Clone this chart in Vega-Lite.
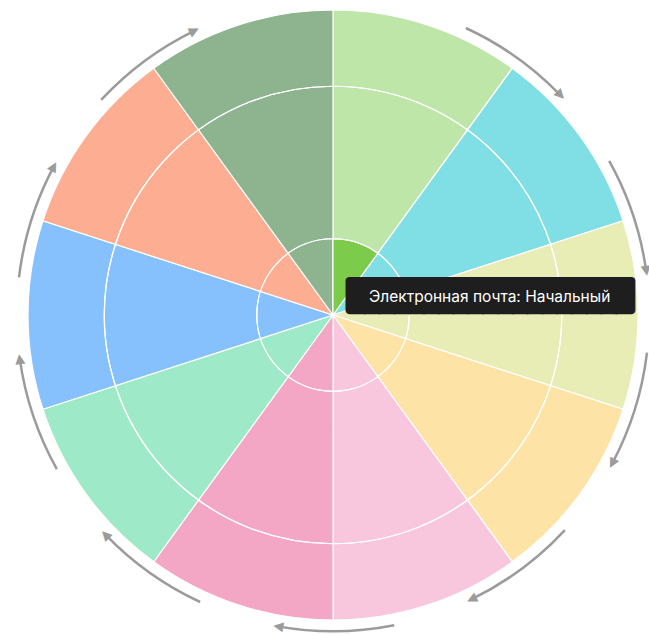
{
  "$schema": "https://vega.github.io/schema/vega-lite/v6.json",
  "width": 632,
  "height": 630,
  "autosize": "none",
  "padding": {"left": 17, "top": 0, "right": 0, "bottom": 5},
  "background": "white",
  "config": {"view": {"stroke": null}},
  "datasets": {
    "channels": [
      {"n": 1, "channel": "Электронная почта", "share": 1, "level": 1, "label": "Электронная почта: Начальный"},
      {"n": 2, "channel": "Социальные сети", "share": 1, "level": 0, "label": "Социальные сети"},
      {"n": 3, "channel": "Поисковая оптимизация", "share": 1, "level": 0, "label": "Поисковая оптимизация"},
      {"n": 4, "channel": "Контекстная реклама", "share": 1, "level": 0, "label": "Контекстная реклама"},
      {"n": 5, "channel": "Контент-маркетинг", "share": 1, "level": 0, "label": "Контент-маркетинг"},
      {"n": 6, "channel": "Мобильный маркетинг", "share": 1, "level": 0, "label": "Мобильный маркетинг"},
      {"n": 7, "channel": "Веб-аналитика", "share": 1, "level": 0, "label": "Веб-аналитика"},
      {"n": 8, "channel": "Видеомаркетинг", "share": 1, "level": 0, "label": "Видеомаркетинг"},
      {"n": 9, "channel": "Партнёрский маркетинг", "share": 1, "level": 0, "label": "Партнёрский маркетинг"},
      {"n": 10, "channel": "CRM", "share": 1, "level": 0, "label": "CRM"}
    ],
    "rings": [{"ring": 1}, {"ring": 2}, {"ring": 3}],
    "arrows": [
      {"k": 1, "t0": 0.69, "t1": 1.28},
      {"k": 2, "t0": 1.69, "t1": 2.28},
      {"k": 3, "t0": 2.69, "t1": 3.28},
      {"k": 4, "t0": 3.69, "t1": 4.28},
      {"k": 5, "t0": 4.69, "t1": 5.28},
      {"k": 6, "t0": 5.69, "t1": 6.28},
      {"k": 7, "t0": 6.69, "t1": 7.28},
      {"k": 8, "t0": 7.69, "t1": 8.28},
      {"k": 9, "t0": 8.69, "t1": 9.28}
    ]
  },
  "layer": [
    {
      "data": {"name": "channels"},
      "mark": {"type": "arc", "outerRadius": 305, "stroke": "white", "strokeWidth": 1.2},
      "encoding": {
        "theta": {"field": "share", "type": "quantitative", "stack": true, "scale": {"domain": [0, 10]}},
        "order": {"field": "n", "type": "quantitative"},
        "color": {
          "field": "channel", "type": "nominal", "legend": null,
          "scale": {
            "domain": ["Электронная почта", "Социальные сети", "Поисковая оптимизация", "Контекстная реклама", "Контент-маркетинг", "Мобильный маркетинг", "Веб-аналитика", "Видеомаркетинг", "Партнёрский маркетинг", "CRM"],
            "range": ["#bde6a8", "#80dfe4", "#e8ecb5", "#fde3a6", "#f8c6dd", "#f4a7c5", "#9de9c8", "#86c1fd", "#fdad91", "#8db38f"]
          }
        }
      }
    },
    {
      "data": {"name": "channels"},
      "mark": {"type": "arc", "stroke": "white", "strokeWidth": 1.2},
      "encoding": {
        "theta": {"field": "share", "type": "quantitative", "stack": true, "scale": {"domain": [0, 10]}},
        "order": {"field": "n", "type": "quantitative"},
        "radius": {"field": "level", "type": "quantitative", "scale": {"type": "linear", "domain": [0, 4], "range": [0, 305], "zero": true}},
        "color": {
          "field": "channel", "type": "nominal", "legend": null,
          "scale": {
            "domain": ["Электронная почта", "Социальные сети", "Поисковая оптимизация", "Контекстная реклама", "Контент-маркетинг", "Мобильный маркетинг", "Веб-аналитика", "Видеомаркетинг", "Партнёрский маркетинг", "CRM"],
            "range": ["#7ccb4b", "#33c2cc", "#cdd36a", "#f9c54d", "#ef8dbb", "#e9558f", "#46d39a", "#3d95f0", "#f96f47", "#4f8a52"]
          }
        }
      }
    },
    {
      "data": {"name": "rings"},
      "mark": {"type": "arc", "theta": 0, "theta2": 6.2832, "fillOpacity": 0, "stroke": "white", "strokeWidth": 1.2},
      "encoding": {
        "radius": {"field": "ring", "type": "quantitative", "scale": {"type": "linear", "domain": [0, 4], "range": [0, 305], "zero": true}}
      }
    },
    {
      "data": {"name": "arrows"},
      "mark": {"type": "arc", "innerRadius": 315, "outerRadius": 317.5, "fill": "#9b9b9b"},
      "encoding": {
        "theta": {"field": "t0", "type": "quantitative", "stack": null, "scale": {"domain": [0, 10]}},
        "theta2": {"field": "t1"}
      }
    },
    {
      "data": {"name": "arrows"},
      "mark": {"type": "text", "radius": 316.3, "font": "DejaVu Sans", "fontSize": 13, "fill": "#9b9b9b", "align": "center", "baseline": "middle"},
      "encoding": {
        "theta": {"field": "t1", "type": "quantitative", "stack": null, "scale": {"domain": [0, 10]}},
        "angle": {"field": "t1", "type": "quantitative", "scale": {"domain": [0, 10], "range": [90, 450]}},
        "text": {"value": "▲"}
      }
    },
    {
      "data": {"name": "channels"},
      "transform": [{"filter": "datum.level > 0"}],
      "mark": {"type": "text", "radius": 0, "font": "DejaVu Sans Mono", "fontSize": 24.6, "fill": "#1e1e1e", "stroke": "#1e1e1e", "strokeWidth": 8, "strokeJoin": "round", "align": "center", "baseline": "middle", "dx": 157.5, "dy": -18},
      "encoding": {
        "theta": {"field": "share", "type": "quantitative", "stack": true, "scale": {"domain": [0, 10]}},
        "text": {"value": "███████████████████"}
      }
    },
    {
      "data": {"name": "channels"},
      "transform": [{"filter": "datum.level > 0"}],
      "mark": {"type": "text", "radius": 0, "font": "Inter", "fontSize": 15.5, "fill": "white", "align": "left", "baseline": "middle", "dx": 36, "dy": -18},
      "encoding": {
        "theta": {"field": "share", "type": "quantitative", "stack": true, "scale": {"domain": [0, 10]}},
        "text": {"field": "label", "type": "nominal"}
      }
    }
  ],
  "resolve": {"scale": {"color": "independent"}}
}
